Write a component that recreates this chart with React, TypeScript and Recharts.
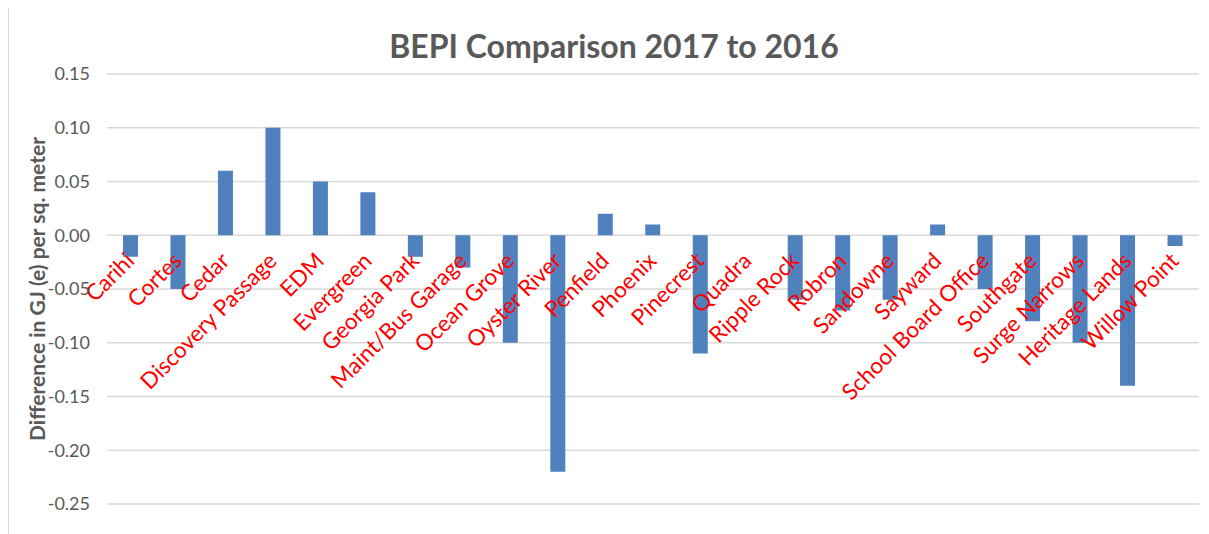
import React from "react";
import { BarChart, Bar, XAxis, YAxis, CartesianGrid, ReferenceDot } from "recharts";

const categories = [
  "Carihi", "Cortes", "Cedar", "Discovery Passage", "EDM", "Evergreen", "Georgia Park",
  "Maint/Bus Garage", "Ocean Grove", "Oyster River", "Penfield", "Phoenix", "Pinecrest",
  "Quadra", "Ripple Rock", "Robron", "Sandowne", "Sayward", "School Board Office",
  "Southgate", "Surge Narrows", "Heritage Lands", "Willow Point",
];
const differences = [
  -0.02, -0.05, 0.06, 0.1, 0.05, 0.04, -0.02, -0.03, -0.1, -0.22, 0.02, 0.01, -0.11,
  0, -0.06, -0.07, -0.06, 0.01, -0.05, -0.08, -0.1, -0.14, -0.01,
];
const yTicks = [-0.25, -0.2, -0.15, -0.1, -0.05, 0, 0.05, 0.1, 0.15];
const yDomain = [-0.25, 0.15];
const title = "BEPI Comparison 2017 to 2016";
const yTitle = "Difference in GJ (e) per sq. meter";

const data = categories.map((name, i) => ({ name, value: differences[i] }));

const FONT = "Lato, 'Open Sans', sans-serif";

const makeCategoryLabel = (name: string) => (props: any) => {
  const { cx, cy } = props;
  if (cx == null || cy == null) return <g />;
  const ax = Number(cx) + 5;
  const ay = Number(cy) + 27;
  return (
    <text
      x={ax}
      y={ay}
      transform={`rotate(-45 ${ax} ${ay})`}
      textAnchor="end"
      fill="#ff0000"
      fontSize={22.5}
      fontFamily={FONT}
    >
      {name}
    </text>
  );
};

const YTitle = (props: any) => {
  const vb = props.viewBox || { x: 0, y: 0, width: 0, height: 0 };
  const cx = vb.x + 28;
  const cy = vb.y + vb.height / 2;
  return (
    <text
      x={cx}
      y={cy}
      transform={`rotate(-90 ${cx} ${cy})`}
      textAnchor="middle"
      dominantBaseline="central"
      fill="#595959"
      fontSize={21}
      fontWeight="bold"
      fontFamily={FONT}
    >
      {yTitle}
    </text>
  );
};

export default function App() {
  return (
    <div style={{ position: "relative", width: 1201, height: 526, background: "#fff" }}>
      <div
        style={{
          position: "absolute",
          left: 0,
          top: -1,
          width: 1300,
          height: 600,
          borderLeft: "1.5px solid #d9d9d9",
          borderTop: "1.5px solid #d9d9d9",
          boxSizing: "border-box",
          pointerEvents: "none",
        }}
      />
      <svg
        width={1201}
        height={70}
        style={{ position: "absolute", left: 0, top: 0, overflow: "visible" }}
      >
        <text
          x={606}
          y={50}
          textAnchor="middle"
          fill="#595959"
          fontSize={32}
          fontWeight="bold"
          fontFamily={FONT}
        >
          {title}
        </text>
      </svg>
      <div style={{ position: "absolute", left: 0, top: 0 }}>
        <BarChart
          width={1201}
          height={526}
          data={data}
          margin={{ top: 66, right: 10, bottom: 30, left: 0 }}
        >
          <CartesianGrid vertical={false} stroke="#d9d9d9" strokeWidth={1.5} />
          <XAxis dataKey="name" hide />
          <YAxis
            width={99}
            domain={yDomain}
            ticks={yTicks}
            interval={0}
            axisLine={false}
            tickLine={false}
            tickSize={6}
            tickMargin={11}
            tickFormatter={(v: number) => v.toFixed(2)}
            tick={{ fill: "#595959", fontSize: 18, fontFamily: FONT }}
            label={{ content: YTitle }}
          />
          <Bar dataKey="value" fill="#4f81bd" barSize={15} isAnimationActive={false} />
          {categories.map((name) => (
            <ReferenceDot
              key={name}
              x={name}
              y={0}
              r={0}
              ifOverflow="visible"
              shape={makeCategoryLabel(name)}
            />
          ))}
        </BarChart>
      </div>
    </div>
  );
}
